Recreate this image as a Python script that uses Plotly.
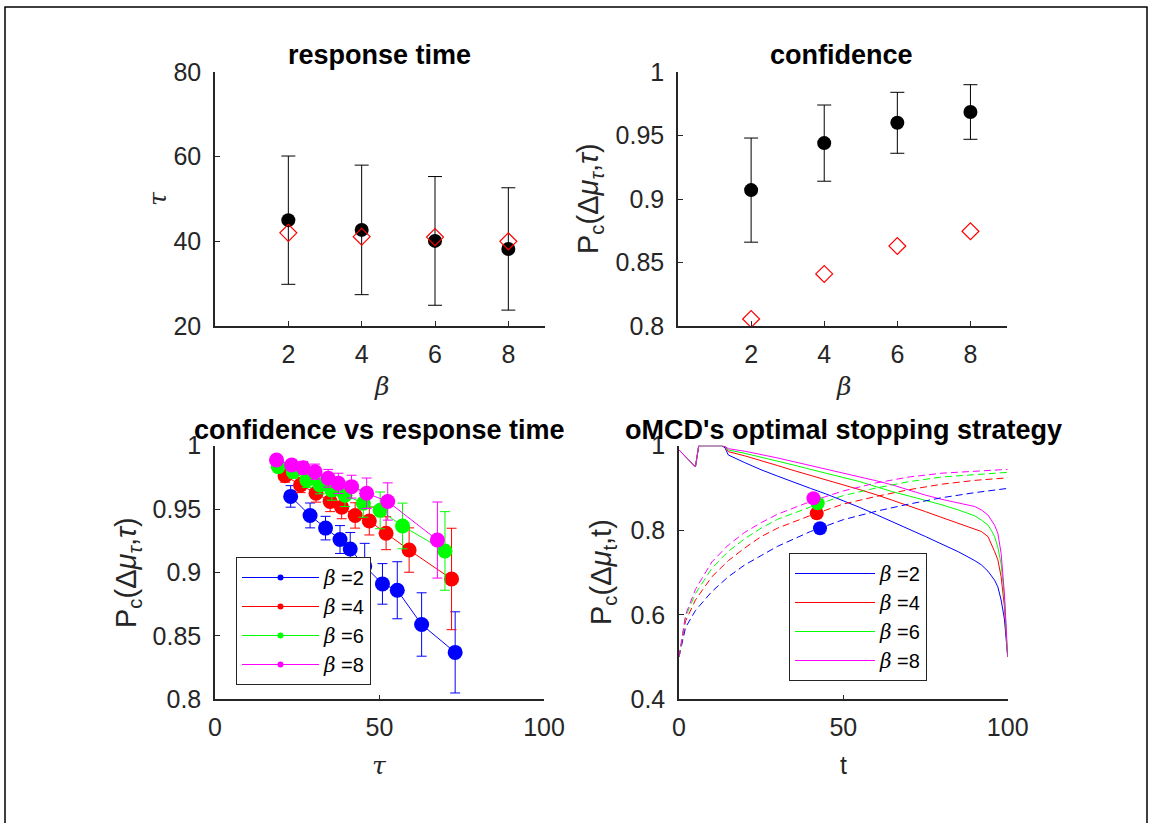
import plotly.graph_objects as go

W, H = 1151, 823

# ---------------- data ----------------
beta = [2, 4, 6, 8]
rt_mean = [45.0, 42.7, 40.1, 38.2]
rt_err = [15.15, 15.3, 15.2, 14.45]
rt_pred = [42.0, 41.1, 41.0, 40.0]

conf_mean = [0.907, 0.944, 0.960, 0.9685]
conf_err = [0.041, 0.030, 0.024, 0.0215]
conf_pred = [0.8055, 0.841, 0.863, 0.8746]

# confidence vs response time (per beta)
b2_tau = [23.0, 28.9, 33.6, 38.0, 41.1, 45.5, 50.9, 55.4, 62.8, 73.0]
b2_pc = [0.960, 0.945, 0.935, 0.926, 0.9185, 0.905, 0.891, 0.886, 0.859, 0.837]
b2_err = [0.0085, 0.0098, 0.0093, 0.011, 0.013, 0.018, 0.016, 0.0225, 0.025, 0.032]

b4_tau = [21.3, 26.0, 30.7, 35.0, 38.5, 42.6, 46.9, 52.0, 59.0, 71.9]
b4_pc = [0.9763, 0.969, 0.9625, 0.956, 0.9514, 0.945, 0.9406, 0.931, 0.9177, 0.8949]
b4_err = [0.005, 0.006, 0.007, 0.008, 0.009, 0.010, 0.011, 0.013, 0.0175, 0.040]

b6_tau = [19.2, 23.8, 27.9, 31.9, 35.5, 39.5, 45.1, 50.2, 57.0, 69.9]
b6_pc = [0.9835, 0.9795, 0.973, 0.969, 0.965, 0.961, 0.9546, 0.949, 0.9367, 0.917]
b6_err = [0.004, 0.005, 0.006, 0.007, 0.008, 0.009, 0.011, 0.0145, 0.018, 0.031]

b8_tau = [18.7, 23.3, 26.8, 30.4, 34.4, 37.5, 41.5, 46.1, 52.5, 67.6]
b8_pc = [0.9887, 0.9848, 0.9826, 0.9795, 0.9743, 0.9703, 0.9677, 0.9625, 0.956, 0.9256]
b8_err = [0.003, 0.004, 0.005, 0.006, 0.007, 0.008, 0.009, 0.012, 0.0147, 0.030]

# optimal stopping strategy: confidence bound (solid)
t_bound = [0, 5, 6, 13, 14, 15, 20, 25, 30, 35, 40, 45, 50, 55, 60, 65, 70, 75, 80, 85, 90,
           92, 94, 95, 96, 97, 98, 99, 100]
bound_b2 = [0.99, 0.95, 1.0, 1.0, 0.995, 0.978, 0.96, 0.943, 0.928, 0.913, 0.899, 0.885, 0.870,
            0.854, 0.837, 0.820, 0.803, 0.785, 0.767, 0.749, 0.728, 0.718, 0.703, 0.693, 0.682,
            0.666, 0.635, 0.59, 0.5]
bound_b4 = [0.99, 0.95, 1.0, 1.0, 0.998, 0.986, 0.976, 0.965, 0.953, 0.941, 0.930, 0.919, 0.908,
            0.896, 0.884, 0.871, 0.858, 0.844, 0.830, 0.816, 0.803, 0.797, 0.785, 0.769, 0.75,
            0.73, 0.69, 0.62, 0.5]
bound_b6 = [0.99, 0.95, 1.0, 1.0, 0.998, 0.99, 0.982, 0.973, 0.963, 0.954, 0.944, 0.934, 0.925,
            0.915, 0.903, 0.891, 0.881, 0.871, 0.860, 0.848, 0.834, 0.824, 0.812, 0.80, 0.785,
            0.76, 0.72, 0.64, 0.5]
bound_b8 = [0.99, 0.95, 1.0, 1.0, 0.998, 0.993, 0.987, 0.9795, 0.971, 0.962, 0.953, 0.944, 0.935,
            0.927, 0.917, 0.907, 0.895, 0.883, 0.873, 0.864, 0.856, 0.848, 0.836, 0.824, 0.812,
            0.793, 0.745, 0.65, 0.5]

# expected confidence trajectory (dashed)
t_traj = [0, 2, 5, 10, 15, 20, 25, 30, 40, 50, 60, 70, 80, 90, 100]
traj_b2 = [0.50, 0.57, 0.61, 0.655, 0.69, 0.718, 0.74, 0.762, 0.797, 0.825, 0.845, 0.862, 0.877, 0.889, 0.899]
traj_b4 = [0.50, 0.585, 0.635, 0.69, 0.728, 0.758, 0.785, 0.805, 0.835, 0.862, 0.880, 0.896, 0.909, 0.918, 0.924]
traj_b6 = [0.50, 0.595, 0.65, 0.71, 0.75, 0.78, 0.805, 0.826, 0.855, 0.882, 0.900, 0.915, 0.926, 0.932, 0.937]
traj_b8 = [0.50, 0.60, 0.66, 0.725, 0.765, 0.795, 0.818, 0.838, 0.868, 0.893, 0.912, 0.926, 0.935, 0.940, 0.944]

# expected stopping point
stop_t = [42.9, 41.9, 42.2, 40.9]
stop_pc = [0.8046, 0.840, 0.8637, 0.8755]

colors = ["#0000FF", "#FF0000", "#00FF00", "#FF00FF"]
GREEK = "DejaVu Serif, Liberation Serif, serif"
beta_txt = "<span style='font-family:DejaVu Serif'><i>β</i></span>"
labels = [beta_txt + " =2", beta_txt + " =4", beta_txt + " =6", beta_txt + " =8"]

TXT = "#262626"
FONT = "Liberation Sans, Arial, sans-serif"

fig = go.Figure()

# ---- top-left: response time ----
fig.add_trace(go.Scatter(x=beta, y=rt_mean, mode="markers",
                         marker=dict(color="black", size=14),
                         error_y=dict(type="data", array=rt_err, color="black", thickness=1, width=7),
                         xaxis="x", yaxis="y", showlegend=False))
fig.add_trace(go.Scatter(x=beta, y=rt_pred, mode="markers",
                         marker=dict(symbol="diamond-open", color="red", size=13, line=dict(width=1.2)),
                         xaxis="x", yaxis="y", showlegend=False))

# ---- top-right: confidence ----
fig.add_trace(go.Scatter(x=beta, y=conf_mean, mode="markers",
                         marker=dict(color="black", size=14),
                         error_y=dict(type="data", array=conf_err, color="black", thickness=1, width=7),
                         xaxis="x2", yaxis="y2", showlegend=False))
fig.add_trace(go.Scatter(x=beta, y=conf_pred, mode="markers",
                         marker=dict(symbol="diamond-open", color="red", size=13, line=dict(width=1.2)),
                         xaxis="x2", yaxis="y2", showlegend=False, cliponaxis=False))

# ---- bottom-left: confidence vs response time ----
series = [(b2_tau, b2_pc, b2_err), (b4_tau, b4_pc, b4_err), (b6_tau, b6_pc, b6_err), (b8_tau, b8_pc, b8_err)]
for (tx, pyv, pe), c in zip(series, colors):
    fig.add_trace(go.Scatter(x=tx, y=pyv, mode="lines+markers",
                             line=dict(color=c, width=1),
                             marker=dict(color=c, size=15),
                             error_y=dict(type="data", array=pe, color=c, thickness=1, width=5),
                             xaxis="x3", yaxis="y3", showlegend=False))
for c, lab in zip(colors, labels):
    fig.add_trace(go.Scatter(x=[None], y=[None], mode="lines+markers",
                             line=dict(color=c, width=1), marker=dict(color=c, size=6),
                             name=lab, legend="legend", xaxis="x3", yaxis="y3"))

# ---- bottom-right: optimal stopping strategy ----
for b, c, lab in zip([bound_b2, bound_b4, bound_b6, bound_b8], colors, labels):
    fig.add_trace(go.Scatter(x=t_bound, y=b, mode="lines", line=dict(color=c, width=1),
                             name=lab, legend="legend2", xaxis="x4", yaxis="y4", cliponaxis=False))
for tr, c in zip([traj_b2, traj_b4, traj_b6, traj_b8], colors):
    fig.add_trace(go.Scatter(x=t_traj, y=tr, mode="lines", line=dict(color=c, width=1, dash="7px,4px"),
                             showlegend=False, xaxis="x4", yaxis="y4"))
for i, c in enumerate(colors):
    fig.add_trace(go.Scatter(x=[stop_t[i]], y=[stop_pc[i]], mode="markers",
                             marker=dict(color=c, size=14), showlegend=False,
                             xaxis="x4", yaxis="y4"))


def px(x):
    return x / W


def py(y):
    return 1 - y / H


axis_common = dict(showline=True, linecolor=TXT, linewidth=1.5, ticks="inside", ticklen=5,
                   tickcolor=TXT, tickwidth=1, showgrid=False, zeroline=False, mirror=False,
                   automargin=False,
                   tickfont=dict(family=FONT, size=25, color=TXT))

fig.update_layout(
    template="none",
    width=W, height=H, autosize=False,
    margin=dict(l=0, r=0, t=0, b=0, pad=0),
    paper_bgcolor="white", plot_bgcolor="white",
    font=dict(family=FONT, color=TXT),
    xaxis=dict(domain=[px(215), px(545)], range=[0, 9], tickvals=beta, anchor="y",
               ticklabelstandoff=5, **axis_common),
    yaxis=dict(domain=[py(326), py(72)], range=[20, 80], tickvals=[20, 40, 60, 80], anchor="x",
               ticklabelstandoff=7, **axis_common),
    xaxis2=dict(domain=[px(678), px(1007)], range=[0, 9], tickvals=beta, anchor="y2",
                ticklabelstandoff=5, **axis_common),
    yaxis2=dict(domain=[py(326), py(72)], range=[0.8, 1], tickvals=[0.8, 0.85, 0.9, 0.95, 1],
                ticktext=["0.8", "0.85", "0.9", "0.95", "1"], anchor="x2",
                ticklabelstandoff=7, **axis_common),
    xaxis3=dict(domain=[px(215), px(544)], range=[0, 100], tickvals=[0, 50, 100], anchor="y3",
                ticklabelstandoff=5, **axis_common),
    yaxis3=dict(domain=[py(699.3), py(445.7)], range=[0.8, 1], tickvals=[0.8, 0.85, 0.9, 0.95, 1],
                ticktext=["0.8", "0.85", "0.9", "0.95", "1"], anchor="x3",
                ticklabelstandoff=7, **axis_common),
    xaxis4=dict(domain=[px(679), px(1007.7)], range=[0, 100], tickvals=[0, 50, 100], anchor="y4",
                ticklabelstandoff=5, **axis_common),
    yaxis4=dict(domain=[py(699.3), py(445.7)], range=[0.4, 1], tickvals=[0.4, 0.6, 0.8, 1],
                ticktext=["0.4", "0.6", "0.8", "1"], anchor="x4",
                ticklabelstandoff=7, **axis_common),
    legend=dict(x=px(236), y=py(557), xanchor="left", yanchor="top",
                bgcolor="white", bordercolor=TXT, borderwidth=1,
                font=dict(family=FONT, size=20, color="black"), itemwidth=77,
                tracegroupgap=0),
    legend2=dict(x=px(789), y=py(553), xanchor="left", yanchor="top",
                 bgcolor="white", bordercolor=TXT, borderwidth=1,
                 font=dict(family=FONT, size=20, color="black"), itemwidth=80,
                 tracegroupgap=0),
    shapes=[dict(type="rect", xref="paper", yref="paper", x0=px(5), x1=px(1147), y0=py(830), y1=py(7),
                 line=dict(color="black", width=1.5), fillcolor="rgba(0,0,0,0)", layer="below")],
)

ann = []
titles = [("response time", 380, 55), ("confidence", 842, 55),
          ("confidence vs response time", 379, 430), ("oMCD's optimal stopping strategy", 843, 430)]
for t, x, y in titles:
    ann.append(dict(text="<b>" + t + "</b>", x=px(x), y=py(y), xref="paper", yref="paper",
                    xanchor="center", yanchor="middle", showarrow=False,
                    font=dict(family=FONT, size=27, color="black")))

pc_tau = "P<sub>c</sub>(Δ<i>μ</i><sub><i>τ</i></sub>,<i>τ</i>)"
pc_t = "P<sub>c</sub>(Δ<i>μ</i><sub>t</sub>,t)"
labels_ax = [
    ("<i>τ</i>", 157, 199, -90, GREEK, 25),
    ("<i>β</i>", 381, 387, 0, GREEK, 25),
    (pc_tau, 590, 199, -90, FONT, 29),
    ("<i>β</i>", 843, 387, 0, GREEK, 25),
    (pc_tau, 128, 572, -90, FONT, 29),
    ("<i>τ</i>", 380, 765, 0, GREEK, 25),
    (pc_t, 603, 572, -90, FONT, 29),
    ("t", 843, 765, 0, FONT, 25),
]
for t, x, y, ang, fam, sz in labels_ax:
    ann.append(dict(text=t, x=px(x), y=py(y), xref="paper", yref="paper",
                    xanchor="center", yanchor="middle", showarrow=False, textangle=ang,
                    font=dict(family=fam, size=sz, color=TXT)))
fig.update_layout(annotations=ann)

fig.write_html("out.html", config={"displayModeBar": False},
               post_script="document.body.style.margin='0';document.body.style.overflow='hidden';")
